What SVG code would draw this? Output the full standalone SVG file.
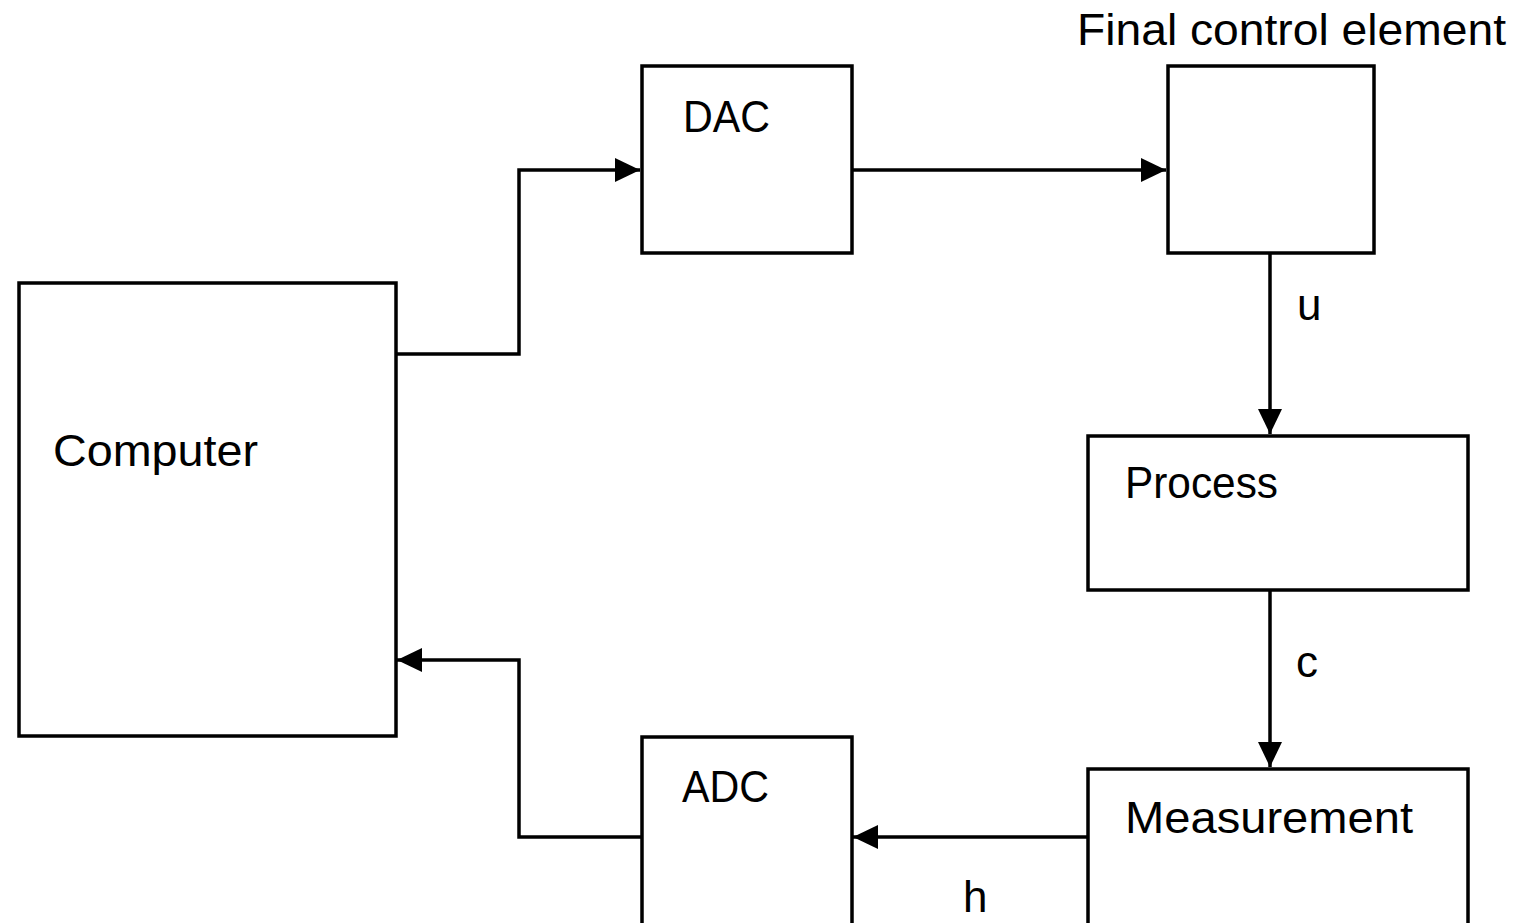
<svg xmlns="http://www.w3.org/2000/svg" width="1540" height="923" viewBox="0 0 1540 923">
<style>
.box{fill:#fff;stroke:#000;stroke-width:3.5}
.lbl{font-family:"Liberation Sans",Arial,sans-serif;font-size:44px;fill:#000}
.wire{fill:none;stroke:#000;stroke-width:3.5}
</style>
<defs>
<marker id="ah" markerUnits="userSpaceOnUse" markerWidth="26" markerHeight="24" refX="25" refY="12" orient="auto">
<path d="M0,0 L25,12 L0,24 Z" fill="#000"/>
</marker>
</defs>
<rect width="1540" height="923" fill="#fff"/>
<g id="computer"><rect class="box" x="19" y="283" width="377" height="453"/><text class="lbl" x="53" y="466" textLength="205" lengthAdjust="spacingAndGlyphs">Computer</text></g>
<g id="dac"><rect class="box" x="642" y="66" width="210" height="187"/><text class="lbl" x="683" y="132" textLength="87" lengthAdjust="spacingAndGlyphs">DAC</text></g>
<g id="fce"><rect class="box" x="1168" y="66" width="206" height="187"/><text class="lbl" x="1077" y="45" textLength="429" lengthAdjust="spacingAndGlyphs">Final control element</text></g>
<g id="process"><rect class="box" x="1088" y="436" width="380" height="154"/><text class="lbl" x="1125" y="498" textLength="153" lengthAdjust="spacingAndGlyphs">Process</text></g>
<g id="measurement"><rect class="box" x="1088" y="769" width="380" height="170"/><text class="lbl" x="1125" y="833" textLength="288" lengthAdjust="spacingAndGlyphs">Measurement</text></g>
<g id="adc"><rect class="box" x="642" y="737" width="210" height="200"/><text class="lbl" x="682" y="802" textLength="87" lengthAdjust="spacingAndGlyphs">ADC</text></g>
<g id="connectors">
<path class="wire" d="M396,354 H519 V170 H640" marker-end="url(#ah)"/>
<path class="wire" d="M852,170 H1166" marker-end="url(#ah)"/>
<path class="wire" d="M1270,253 V434" marker-end="url(#ah)"/>
<path class="wire" d="M1270,590 V767" marker-end="url(#ah)"/>
<path class="wire" d="M1088,837 H853" marker-end="url(#ah)"/>
<path class="wire" d="M642,837 H519 V660 H397" marker-end="url(#ah)"/>
<text class="lbl" x="1297" y="320">u</text>
<text class="lbl" x="1296" y="677">c</text>
<text class="lbl" x="963" y="912">h</text>
</g>
</svg>
